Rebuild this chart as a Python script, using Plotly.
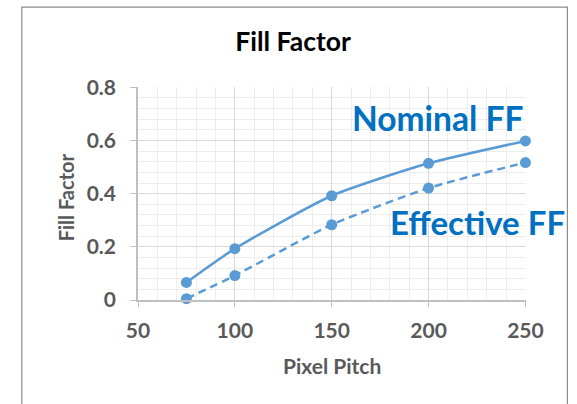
import plotly.graph_objects as go

# Fill factor versus pixel pitch
pixel_pitch = [75, 100, 150, 200, 250]
nominal_ff = [0.066, 0.193, 0.392, 0.514, 0.598]
effective_ff = [0.005, 0.092, 0.283, 0.421, 0.517]

x_ticks = [50, 100, 150, 200, 250]
y_ticks = [0, 0.2, 0.4, 0.6, 0.8]

line_blue = "#5B9BD5"
label_blue = "#0070C0"
text_gray = "#595959"
font_family = "Lato, 'Open Sans', sans-serif"

# Plot-area placement in pixels
L, R, T, B = 137.5, 50.5, 87.3, 103.5
W, H = 577, 404
plot_w = W - L - R
plot_h = H - T - B


def px_to_paper_x(px):
    return (px - L) / plot_w


def px_to_paper_y(py):
    return (H - B - py) / plot_h


fig = go.Figure()
fig.add_trace(go.Scatter(
    x=pixel_pitch, y=nominal_ff, mode="lines+markers", name="Nominal FF",
    line=dict(color=line_blue, width=2.5, shape="spline", smoothing=0.6),
    marker=dict(color=line_blue, size=11), cliponaxis=False,
))
fig.add_trace(go.Scatter(
    x=pixel_pitch, y=effective_ff, mode="lines+markers", name="Effective FF",
    line=dict(color=line_blue, width=2.5, dash="8px,5px", shape="spline", smoothing=0.6),
    marker=dict(color=line_blue, size=11), cliponaxis=False,
))

fig.update_layout(
    width=W, height=H,
    margin=dict(l=L, r=R, t=T, b=B),
    paper_bgcolor="white", plot_bgcolor="white",
    showlegend=False,
    font=dict(family=font_family, color=text_gray),
    title=dict(
        text="<b>Fill Factor</b>", x=293 / W, xanchor="center",
        y=1 - 42 / H, yanchor="middle",
        font=dict(family=font_family, size=26.5, color="black"),
    ),
)

fig.update_xaxes(
    range=[50, 250.3], tickvals=x_ticks, ticktext=[str(v) for v in x_ticks],
    showgrid=True, gridcolor="#D9D9D9", gridwidth=1,
    minor=dict(dtick=10, tick0=50, showgrid=True, gridcolor="#EDEDED", gridwidth=1),
    showline=True, linecolor="#BFBFBF", linewidth=1.5,
    ticks="outside", ticklen=5, tickcolor="#BFBFBF",
    ticklabelstandoff=6,
    tickfont=dict(family=font_family, size=21, color=text_gray, weight="bold"),
    zeroline=False,
)
fig.update_yaxes(
    range=[0, 0.801], tickvals=y_ticks, ticktext=["0", "0.2", "0.4", "0.6", "0.8"],
    showgrid=True, gridcolor="#D9D9D9", gridwidth=1,
    minor=dict(dtick=0.04, tick0=0, showgrid=True, gridcolor="#EDEDED", gridwidth=1),
    showline=True, linecolor="#BFBFBF", linewidth=1.5,
    ticks="outside", ticklen=6, tickcolor="#BFBFBF",
    ticklabelstandoff=10,
    tickfont=dict(family=font_family, size=21, color=text_gray, weight="bold"),
    zeroline=False,
)

# Axis titles
fig.add_annotation(
    x=px_to_paper_x(332), y=px_to_paper_y(366), xref="paper", yref="paper",
    text="<b>Pixel Pitch</b>", showarrow=False, xanchor="center", yanchor="middle",
    font=dict(family=font_family, size=21, color=text_gray),
)
fig.add_annotation(
    x=px_to_paper_x(65), y=px_to_paper_y(198), xref="paper", yref="paper",
    text="<b>Fill Factor</b>", showarrow=False, textangle=-90,
    xanchor="center", yanchor="middle",
    font=dict(family=font_family, size=20, color=text_gray),
)

# Series labels
fig.add_annotation(
    x=249.6, y=0.684, xref="x", yref="y", text="<b>Nominal FF</b>", showarrow=False,
    xanchor="right", yanchor="middle",
    font=dict(family=font_family, size=33.5, color=label_blue),
)
fig.add_annotation(
    x=179.2, y=0.292, xref="x", yref="y", text="<b>Effective FF</b>", showarrow=False,
    xanchor="left", yanchor="middle",
    font=dict(family=font_family, size=33, color=label_blue),
)

# Chart area border
fig.add_shape(
    type="rect", xref="paper", yref="paper", layer="below",
    x0=px_to_paper_x(21), x1=px_to_paper_x(568),
    y0=px_to_paper_y(420), y1=px_to_paper_y(7.3),
    line=dict(color="#8C8C8C", width=1.2), fillcolor="rgba(0,0,0,0)",
)

fig.write_html("out.html")
